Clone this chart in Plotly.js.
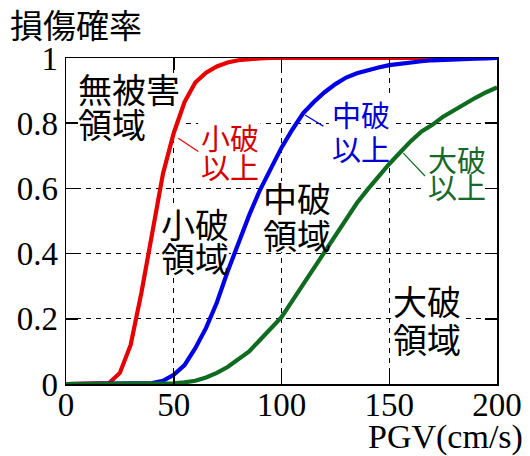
<!DOCTYPE html>
<html>
<head>
<meta charset="utf-8">
<script src="https://cdn.plot.ly/plotly-3.0.1.min.js"></script>
<style>html,body{margin:0;padding:0;background:#fff}#chart{width:530px;height:456px}</style>
</head>
<body>
<div id="chart"></div>
<script>
// ---- data ----
const pgv = [0,5,10,15,20,25,30,35,40,45,50,55,60,65,70,75,80,85,90,95,100,105,110,115,120,125,130,135,140,145,150,155,160,165,170,175,180,185,190,195,200];
const minorPlus = [0,0,0,0,0.003,0.034,0.12,0.28,0.47,0.645,0.77,0.865,0.925,0.955,0.974,0.986,0.993,0.997,0.999,1,1,1,1,1,1,1,1,1,1,1,1,1,1,1,1,1,1,1,1,1,1];
const moderatePlus = [0,0,0,0,0,0,0,0,0.003,0.01,0.028,0.058,0.11,0.172,0.25,0.345,0.435,0.518,0.595,0.66,0.725,0.78,0.83,0.865,0.895,0.92,0.94,0.953,0.963,0.971,0.978,0.983,0.987,0.99,0.993,0.995,0.996,0.997,0.998,0.999,1];
const majorPlus = [0,0,0,0,0,0,0,0,0,0,0.002,0.005,0.01,0.02,0.034,0.052,0.075,0.10,0.135,0.168,0.205,0.255,0.305,0.355,0.405,0.46,0.51,0.555,0.597,0.637,0.675,0.71,0.745,0.775,0.795,0.82,0.84,0.86,0.878,0.895,0.91];
const xTickVals = [0,50,100,150,200];
const xTickText = ["0","50","100","150","200"];
const yTickVals = [0,0.2,0.4,0.6,0.8,1];
const yTickText = ["0","0.2","0.4","0.6","0.8","1"];
const yTitle = "損傷確率";
const xTitle = "PGV(cm/s)";
const seriesNames = ["小破以上","中破以上","大破以上"];
const lblNoDamage = ["無被害","領域"];
const lblMinorZone = ["小破","領域"];
const lblModZone = ["中破","領域"];
const lblMajorZone = ["大破","領域"];
const lblMinorPlus = ["小破","以上"];
const lblModPlus = ["中破","以上"];
const lblMajorPlus = ["大破","以上"];

// ---- styles ----
const RED = "#e60000", BLUE = "#0000e6", GREEN = "#0e6b20";
const CJK = "Noto Sans CJK JP, Noto Sans, sans-serif";
const SERIF = "Liberation Serif, Times New Roman, serif";

function curve(y, color, name) {
  return {x: pgv, y: y, type: "scatter", mode: "lines", name: name,
          line: {color: color, width: 4.2}, hoverinfo: "skip"};
}
const traces = [curve(minorPlus, RED, seriesNames[0]),
                curve(moderatePlus, BLUE, seriesNames[1]),
                curve(majorPlus, GREEN, seriesNames[2])];

function lbl(text, x, y, color, size) {
  return {text: text, x: x, y: y, xref: "x", yref: "y", xanchor: "left", yanchor: "middle",
          showarrow: false, borderpad: 0,
          font: {family: CJK, size: size, color: color}};
}
const BK = 34, CL = 29;
const annotations = [
  lbl(lblNoDamage[0], 5.0, 0.906, "#000", BK), lbl(lblNoDamage[1], 5.0, 0.798, "#000", BK),
  lbl(lblMinorZone[0], 43.8, 0.491, "#000", BK), lbl(lblMinorZone[1], 43.8, 0.388, "#000", BK),
  lbl(lblModZone[0], 90.8, 0.571, "#000", BK), lbl(lblModZone[1], 90.8, 0.460, "#000", BK),
  lbl(lblMajorZone[0], 151.2, 0.255, "#000", BK), lbl(lblMajorZone[1], 151.2, 0.141, "#000", BK),
  lbl(lblMinorPlus[0], 62.0, 0.759, "#d40000", CL), lbl(lblMinorPlus[1], 62.0, 0.670, "#d40000", CL),
  lbl(lblModPlus[0], 123.0, 0.828, "#0000d4", CL), lbl(lblModPlus[1], 123.0, 0.725, "#0000d4", CL),
  lbl(lblMajorPlus[0], 167.7, 0.690, "#17692a", CL), lbl(lblMajorPlus[1], 167.7, 0.606, "#17692a", CL),
  {text: xTitle, x: 1.065, y: -0.163, xref: "paper", yref: "paper", xanchor: "right", yanchor: "middle",
   showarrow: false, font: {family: SERIF, size: 34, color: "#000"}}
];

function leader(x0, y0, x1, y1, color) {
  return {type: "line", xref: "x", yref: "y", x0: x0, y0: y0, x1: x1, y1: y1,
          line: {color: color, width: 1.2}};
}
// white patches behind the label blocks (hide grid lines, stay under curves)
function patch(x0, y0, x1, y1) {
  return {type: "rect", xref: "x", yref: "y", x0: x0, y0: y0, x1: x1, y1: y1, layer: "between",
          fillcolor: "#ffffff", line: {width: 0}};
}
const shapes = [
  patch(4.6, 0.748, 54.8, 0.954),
  patch(61.3, 0.632, 90.3, 0.807),
  patch(43.2, 0.331, 75.6, 0.543),
  patch(90.5, 0.405, 123.4, 0.623),
  patch(122.0, 0.681, 151.3, 0.877),
  patch(167.0, 0.564, 197.7, 0.736),
  patch(150.8, 0.086, 183.8, 0.310),
  leader(52.1, 0.754, 61.4, 0.713, RED),
  leader(110.9, 0.825, 119.4, 0.791, BLUE),
  leader(156.5, 0.708, 166.6, 0.638, GREEN)
];

const axisCommon = {
  ticks: "inside", ticklen: 12, tickwidth: 1.5, tickcolor: "#000",
  showline: true, linecolor: "#000", linewidth: 1.5, mirror: "ticks",
  showgrid: true, gridcolor: "#000", gridwidth: 1.2, griddash: "5px,5px",
  zeroline: false, tickfont: {family: SERIF, size: 33, color: "#000"}, tickmode: "array"
};

const layout = {
  width: 530, height: 456,
  margin: {l: 66, r: 33, t: 58, b: 72},
  paper_bgcolor: "#fff", plot_bgcolor: "#fff",
  showlegend: false,
  title: {text: yTitle, x: 10/530, xanchor: "left", xref: "container",
          y: 1 - 26/456, yanchor: "middle", yref: "container",
          font: {family: CJK, size: 33, color: "#000"}},
  xaxis: Object.assign({}, axisCommon, {range: [0, 200], tickvals: xTickVals, ticktext: xTickText,
          ticklabelstandoff: -9}),
  yaxis: Object.assign({}, axisCommon, {range: [0, 1], tickvals: yTickVals, ticktext: yTickText}),
  annotations: annotations,
  shapes: shapes
};

Plotly.newPlot("chart", traces, layout, {staticPlot: true, displayModeBar: false});
</script>
</body>
</html>
